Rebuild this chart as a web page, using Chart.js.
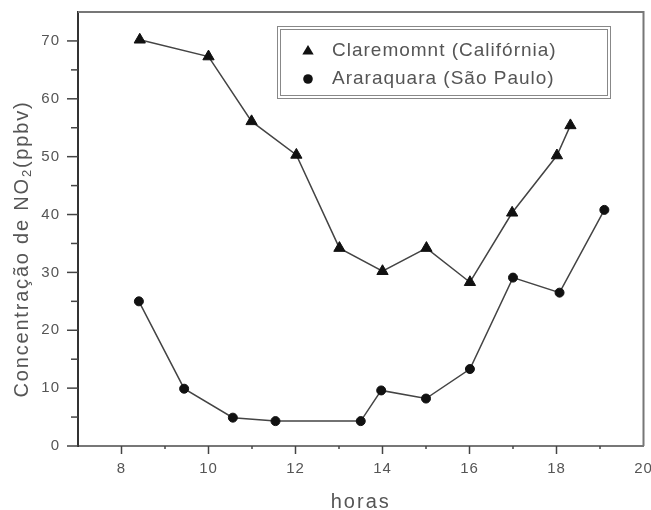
<!DOCTYPE html>
<html>
<head>
<meta charset="utf-8">
<script src="https://cdn.jsdelivr.net/npm/chart.js@4"></script>
<style>
  body { margin: 0; background: #fff; }
  canvas { display: block; }
</style>
</head>
<body>
<canvas id="no2Chart" width="651" height="510"></canvas>
<script>
// valores
const horasClaremont = [8.42, 10.0, 10.99, 12.02, 13.01, 14.0, 15.01, 16.01, 16.98, 18.01, 18.32];
const no2Claremont = [70.2, 67.3, 56.1, 50.3, 34.2, 30.2, 34.2, 28.3, 40.3, 50.2, 55.4];
const horasAraraquara = [8.4, 9.44, 10.56, 11.54, 13.5, 13.97, 15.0, 16.01, 17.0, 18.07, 19.1];
const no2Araraquara = [25.0, 9.9, 4.9, 4.3, 4.3, 9.6, 8.2, 13.3, 29.1, 26.5, 40.8];
const nomesSeries = ['Claremomnt (Califórnia)', 'Araraquara (São Paulo)'];
const estilosSeries = ['triangle', 'circle'];
const limitesX = [7, 20];
const limitesY = [0, 75];

const corTexto = '#555';
const fonte = '"Liberation Sans", Arial, sans-serif';

function pontos(xs, ys) {
    return xs.map((x, i) => ({ x: x, y: ys[i] }));
}

function marcador(ctx, estilo, x, y, r) {
    ctx.beginPath();
    if (estilo === 'triangle') {
        ctx.moveTo(x, y - r);
        ctx.lineTo(x + r * 0.95, y + r * 0.6);
        ctx.lineTo(x - r * 0.95, y + r * 0.6);
        ctx.closePath();
    } else {
        ctx.arc(x, y, r * 0.8, 0, Math.PI * 2);
    }
    ctx.fill();
}

const moldura = {
    id: 'moldura',
    beforeDraw: (chart) => {
        const ctx = chart.ctx;
        ctx.save();
        ctx.fillStyle = '#fff';
        ctx.fillRect(0, 0, chart.width, chart.height);
        ctx.restore();
        ctx.letterSpacing = '1px';
    },
    afterDraw: (chart) => {
        const ctx = chart.ctx;
        const area = chart.chartArea;
        const sx = chart.scales.x;
        const sy = chart.scales.y;
        ctx.save();

        // topo e lado direito da caixa
        ctx.strokeStyle = '#777';
        ctx.lineWidth = 2;
        ctx.beginPath();
        ctx.moveTo(area.left, area.top);
        ctx.lineTo(area.right, area.top);
        ctx.lineTo(area.right, area.bottom);
        ctx.stroke();

        // marcas dos eixos (maiores com rótulo, menores sem)
        ctx.lineWidth = 1.5;
        ctx.strokeStyle = '#444';
        sx.ticks.forEach(t => {
            if (t.value <= limitesX[0] || t.value >= limitesX[1]) return;
            const px = sx.getPixelForValue(t.value);
            const len = t.value % 2 === 0 ? 8 : 3;
            ctx.beginPath();
            ctx.moveTo(px, area.bottom);
            ctx.lineTo(px, area.bottom + len);
            ctx.stroke();
        });
        sy.ticks.forEach(t => {
            if (t.value >= limitesY[1]) return;
            const py = sy.getPixelForValue(t.value);
            const len = t.value % 10 === 0 ? 11 : 7;
            ctx.beginPath();
            ctx.moveTo(area.left - len, py);
            ctx.lineTo(area.left, py);
            ctx.stroke();
        });

        // legenda
        ctx.strokeStyle = '#888';
        ctx.lineWidth = 1;
        ctx.strokeRect(277.5, 26.5, 333, 72);
        ctx.strokeRect(280.5, 29.5, 327, 66);
        ctx.font = '19px ' + fonte;
        ctx.letterSpacing = '1px';
        ctx.textBaseline = 'middle';
        ctx.textAlign = 'left';
        const linhas = [51, 79];
        chart.data.datasets.forEach((ds, i) => {
            ctx.fillStyle = '#111';
            marcador(ctx, estilosSeries[i], 308, linhas[i], 6);
            ctx.fillStyle = corTexto;
            ctx.fillText(ds.label, 332, linhas[i]);
        });

        // título do eixo x
        ctx.font = '20px ' + fonte;
        ctx.letterSpacing = '2px';
        ctx.textAlign = 'center';
        ctx.fillText('horas', (area.left + area.right) / 2, 502);

        // título do eixo y, com NO2 subscrito
        const partes = [
            { t: 'Concentração de NO', f: '20px ', d: 0 },
            { t: '2', f: '13px ', d: 5 },
            { t: '(ppbv)', f: '20px ', d: 0 }
        ];
        ctx.letterSpacing = '1.8px';
        ctx.textAlign = 'left';
        let total = 0;
        partes.forEach(p => { ctx.font = p.f + fonte; total += ctx.measureText(p.t).width; });
        ctx.translate(22, 249);
        ctx.rotate(-Math.PI / 2);
        let pos = -total / 2;
        partes.forEach(p => {
            ctx.font = p.f + fonte;
            ctx.fillText(p.t, pos, p.d);
            pos += ctx.measureText(p.t).width;
        });
        ctx.restore();
        ctx.letterSpacing = '0px';
    }
};

const eixoTicks = { color: corTexto, font: { family: fonte, size: 15 } };

new Chart(document.getElementById('no2Chart').getContext('2d'), {
    type: 'scatter',
    data: {
        datasets: [
            {
                label: nomesSeries[0],
                data: pontos(horasClaremont, no2Claremont),
                showLine: true,
                borderColor: '#444',
                borderWidth: 1.5,
                pointStyle: estilosSeries[0],
                pointRadius: 6.5,
                pointBackgroundColor: '#111',
                pointBorderColor: '#111',
                pointBorderWidth: 1
            },
            {
                label: nomesSeries[1],
                data: pontos(horasAraraquara, no2Araraquara),
                showLine: true,
                borderColor: '#444',
                borderWidth: 1.5,
                pointStyle: estilosSeries[1],
                pointRadius: 4.5,
                pointBackgroundColor: '#111',
                pointBorderColor: '#111',
                pointBorderWidth: 1
            }
        ]
    },
    options: {
        responsive: false,
        animation: false,
        layout: { padding: { top: 12, right: 6, left: 0, bottom: 0 } },
        plugins: {
            legend: { display: false },
            tooltip: { enabled: false }
        },
        scales: {
            x: {
                type: 'linear',
                min: limitesX[0],
                max: limitesX[1],
                grid: { display: false, drawTicks: false },
                border: { display: true, color: '#777', width: 2 },
                ticks: Object.assign({}, eixoTicks, {
                    stepSize: 1,
                    autoSkip: false,
                    maxRotation: 0,
                    padding: 14,
                    callback: (v) => v % 2 === 0 ? v : ''
                }),
                afterFit: (s) => { s.height = 64; s.paddingLeft = 0; s.paddingRight = 0; }
            },
            y: {
                min: limitesY[0],
                max: limitesY[1],
                grid: { display: false, drawTicks: false },
                border: { display: true, color: '#333', width: 2 },
                ticks: Object.assign({}, eixoTicks, {
                    stepSize: 5,
                    autoSkip: false,
                    padding: 18,
                    callback: (v) => v % 10 === 0 ? v : ''
                }),
                afterFit: (s) => { s.width = 78; s.paddingTop = 0; s.paddingBottom = 0; }
            }
        }
    },
    plugins: [moldura]
});
</script>
</body>
</html>
